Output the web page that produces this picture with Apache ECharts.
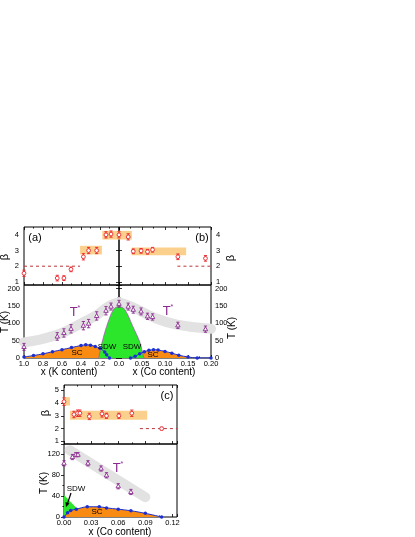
<!DOCTYPE html>
<html>
<head>
<meta charset="utf-8">
<script src="https://cdn.jsdelivr.net/npm/echarts@6/dist/echarts.min.js"></script>
<style>
  html, body { margin: 0; padding: 0; background: #fff; }
  #chart { width: 415px; height: 537px; }
</style>
</head>
<body>
<div id="chart"></div>
<script>
// ---- values ----
// (a) K side: beta and T* share the same samples
const kX = [1.0, 0.65, 0.58, 0.505, 0.375, 0.32, 0.235, 0.137, 0.084, 0.0];
const kBeta = [1.55, 1.24, 1.24, 1.8, 2.6, 3.0, 3.0, 4.0, 4.05, 4.0];
const kBetaErr = [0.2, 0.18, 0.15, 0.15, 0.2, 0.2, 0.2, 0.2, 0.2, 0.2];
const kTstar = [32, 62, 72, 84, 93, 99, 121, 136, 148, 156];
const kTstarErr = [10, 11, 12, 12, 12, 12, 12, 12, 10, 10];

// (b) Co side
const coX = [0.02, 0.031, 0.048, 0.062, 0.073, 0.128, 0.188];
const coBeta = [3.87, 2.95, 2.98, 2.92, 3.05, 2.6, 2.5];
const coBetaErr = [0.2, 0.15, 0.15, 0.15, 0.15, 0.18, 0.18];
const coTstar = [148, 139, 134, 120, 118, 94, 83];
const coTstarErr = [10, 10, 10, 9, 9, 9, 9];

// shaded beta bands: [x1, x2, beta1, beta2]
const kBands = [[0.41, 0.18, 2.75, 3.3], [0.176, 0.0, 3.7, 4.25]];
const coBands = [[0.0, 0.028, 3.7, 4.25], [0.028, 0.146, 2.7, 3.2]];
const kDash = [[1.0, 2], [0.41, 2]];
const coDash = [[0.127, 2], [0.2, 2]];

// grey T* guide
const kGuide = [[1.0, 45], [0.65, 67], [0.375, 103], [0.235, 124], [0.1, 150], [0.0, 160]];
const coGuide = [[0.0, 160], [0.03, 146], [0.075, 117], [0.126, 96], [0.2, 84]];

// Tc domes and SDW
const kTc = [[1.0, 3], [0.9, 7], [0.8, 12], [0.7, 18], [0.6, 24], [0.5, 30], [0.4, 36], [0.35, 38], [0.3, 37], [0.25, 33], [0.2, 28], [0.15, 17], [0.13, 9], [0.1, 0]];
const coTc = [[0.025, 0], [0.035, 5], [0.045, 12], [0.055, 18], [0.065, 22], [0.075, 24], [0.085, 23], [0.1, 19], [0.115, 14], [0.13, 8], [0.15, 3], [0.17, 0], [0.2, 0]];
const kTN = [[0.215, 0], [0.21, 5], [0.18, 43], [0.13, 91], [0.06, 139], [0.0, 150]];
const coTN = [[0.0, 150], [0.013, 139], [0.03, 91], [0.046, 43], [0.053, 5], [0.055, 0]];

// (c) Co side, small x
const cX = [0.0, 0.011, 0.015, 0.0176, 0.028, 0.042, 0.047, 0.0607, 0.075, 0.108];
const cBeta = [4.1, 3.1, 3.2, 3.2, 2.95, 3.15, 3.0, 3.0, 3.2, 2.0];
const cBetaErr = [0.3, 0.25, 0.25, 0.25, 0.25, 0.25, 0.2, 0.2, 0.25, 0.1];
const cBands = [[0.0, 0.0066, 3.8, 4.45], [0.0066, 0.092, 2.7, 3.4]];
const cDash = [[0.084, 2], [0.125, 2]];
const cTX = [0.0, 0.0093, 0.013, 0.0155, 0.0265, 0.041, 0.047, 0.060, 0.074];
const cTstar = [103, 115, 119.5, 119.5, 103, 93, 80, 59, 48];
const cTstarErr = [5, 5, 4, 4, 5, 5, 5, 5, 5];
const cGuide = [[0.0063, 128], [0.09, 38]];
const cTc = [[0.0, 0], [0.004, 8], [0.0074, 12.5], [0.0136, 15], [0.0257, 19.6], [0.039, 19.6], [0.047, 17.5], [0.06, 15], [0.074, 12], [0.09, 7], [0.108, 0]];
const cTN = [[0.0, 42], [0.005, 33], [0.01, 24], [0.015, 15]];

const betaTicks = [1, 2, 3, 4];
const betaTicksC = [1, 2, 3, 4, 5];

// ---- styles ----
const FONT = 'Liberation Sans, Arial, sans-serif';
const RED = '#e8242a';
const PURPLE = '#8a2a90';
const ORANGE = '#f98a12';
const GREEN = '#2ce62c';
const BLUE = '#1d2fd0';
const BAND = '#fbd08c';
const GUIDE = '#e2e2e2';

const chart = echarts.init(document.getElementById('chart'));

function xAx(grid, pos, min, max, interval, inverse, showLabel, fmt) {
  return {
    type: 'value', gridIndex: grid, position: pos, min, max, interval, inverse,
    axisLine: { show: false },
    axisTick: { show: true, inside: true, length: 3, lineStyle: { color: '#000', width: 0.8 } },
    minorTick: { show: true, splitNumber: 2, length: 1.6, lineStyle: { color: '#000', width: 0.8 } },
    axisLabel: { show: showLabel, formatter: fmt, margin: 2, fontSize: 7.5, color: '#000', fontFamily: FONT },
    splitLine: { show: false }
  };
}

function yT(grid, pos, max, interval) {
  return {
    type: 'value', gridIndex: grid, position: pos, min: 0, max, interval,
    axisLine: { show: false },
    axisTick: { show: true, inside: false, length: 3, lineStyle: { color: '#000', width: 0.8 } },
    minorTick: { show: true, splitNumber: 2, length: 1.6, lineStyle: { color: '#000', width: 0.8 } },
    axisLabel: { formatter: v => (v % interval ? '' : String(v)), margin: 4, fontSize: 7.5, color: '#000', fontFamily: FONT },
    splitLine: { show: false }
  };
}

function yBeta(grid, pos, min, max, ticks) {
  return {
    type: 'value', gridIndex: grid, position: pos, min, max,
    axisLine: { show: false },
    axisTick: { show: true, inside: false, length: 3, customValues: ticks, lineStyle: { color: '#000', width: 0.8 } },
    axisLabel: { customValues: ticks, margin: 5, fontSize: 7.5, color: '#000', fontFamily: FONT },
    splitLine: { show: false }
  };
}

function errSeries(xi, yi, xs, ys, es, color, tri) {
  return {
    type: 'custom', xAxisIndex: xi, yAxisIndex: yi, z: 6, clip: false, silent: true,
    data: xs.map((x, i) => [x, ys[i], es[i]]),
    renderItem: (params, api) => {
      const x = api.value(0), y = api.value(1), e = api.value(2);
      const c = api.coord([x, y]);
      const t = api.coord([x, y + e]);
      const b = api.coord([x, y - e]);
      const st = { stroke: color, lineWidth: 0.9 };
      const kids = [
        { type: 'line', shape: { x1: c[0], y1: t[1], x2: c[0], y2: b[1] }, style: st },
        { type: 'line', shape: { x1: c[0] - 1.6, y1: t[1], x2: c[0] + 1.6, y2: t[1] }, style: st },
        { type: 'line', shape: { x1: c[0] - 1.6, y1: b[1], x2: c[0] + 1.6, y2: b[1] }, style: st }
      ];
      if (tri) {
        kids.push({ type: 'polygon', shape: { points: [[c[0], c[1] - 2.4], [c[0] - 2.2, c[1] + 1.6], [c[0] + 2.2, c[1] + 1.6]] },
          style: { fill: '#fff', stroke: color, lineWidth: 0.9 } });
      } else {
        kids.push({ type: 'circle', shape: { cx: c[0], cy: c[1], r: 1.9 }, style: { fill: '#fff', stroke: color, lineWidth: 0.9 } });
      }
      return { type: 'group', children: kids };
    }
  };
}

function bandSeries(xi, yi, bands) {
  return {
    type: 'custom', xAxisIndex: xi, yAxisIndex: yi, z: 2, silent: true,
    data: bands,
    renderItem: (params, api) => {
      const p1 = api.coord([api.value(0), api.value(3)]);
      const p2 = api.coord([api.value(1), api.value(2)]);
      return { type: 'rect', shape: { x: Math.min(p1[0], p2[0]), y: Math.min(p1[1], p2[1]),
        width: Math.abs(p2[0] - p1[0]), height: Math.abs(p2[1] - p1[1]) }, style: { fill: BAND } };
    }
  };
}

function dashSeries(xi, yi, data) {
  return { type: 'line', xAxisIndex: xi, yAxisIndex: yi, data, symbol: 'none', z: 3, silent: true,
    lineStyle: { color: '#b8363a', width: 1, type: [3, 3] } };
}

function guideSeries(xi, yi, data) {
  return { type: 'line', xAxisIndex: xi, yAxisIndex: yi, data, smooth: 0.5, symbol: 'none', z: 1, silent: true,
    lineStyle: { color: GUIDE, width: 10, cap: 'round' } };
}

function areaSeries(xi, yi, data, color, z, lineColor) {
  return { type: 'line', xAxisIndex: xi, yAxisIndex: yi, data, smooth: 0.3, symbol: 'none', z, silent: true,
    lineStyle: { color: lineColor || color, width: lineColor ? 0.7 : 0 }, areaStyle: { color, opacity: 1 } };
}

function tcLine(xi, yi, data) {
  return { type: 'line', xAxisIndex: xi, yAxisIndex: yi, data, smooth: 0.3, symbol: 'circle', symbolSize: 3.5, z: 5, silent: true,
    itemStyle: { color: BLUE }, lineStyle: { color: BLUE, width: 1 } };
}

function txt(x, y, text, size, color, rot, rich) {
  return { type: 'text', x, y, rotation: rot || 0, z: 20,
    style: { text, fontSize: size, fontFamily: FONT, fill: color || '#000', align: 'center', verticalAlign: 'middle', rich } };
}
const starRich = { t: { fontSize: 13, fontFamily: FONT, fill: PURPLE }, s: { fontSize: 7, fontFamily: FONT, fill: PURPLE, verticalAlign: 'top', padding: [0, 0, 8, 0] } };

const border = { show: true, borderColor: '#000', borderWidth: 1, backgroundColor: 'transparent' };
const kFmt = v => v.toFixed(1);
const coFmt = v => (v === 0 ? '' : v.toFixed(2));
const cFmt = v => (Math.abs(v / 0.03 - Math.round(v / 0.03)) > 1e-6 ? '' : v.toFixed(2));

chart.setOption({
  animation: false,
  grid: [
    Object.assign({ left: 24, top: 227, width: 95, height: 58 }, border),
    Object.assign({ left: 119, top: 227, width: 92, height: 58 }, border),
    Object.assign({ left: 24, top: 285, width: 95, height: 73 }, border),
    Object.assign({ left: 119, top: 285, width: 92, height: 73 }, border),
    Object.assign({ left: 64, top: 385, width: 113, height: 59 }, border),
    Object.assign({ left: 64, top: 444, width: 113, height: 73 }, border)
  ],
  xAxis: [
    xAx(0, 'bottom', 0, 1, 0.2, true, false, kFmt),
    xAx(1, 'bottom', 0, 0.2, 0.05, false, false, coFmt),
    xAx(2, 'bottom', 0, 1, 0.2, true, true, kFmt),
    xAx(3, 'bottom', 0, 0.2, 0.05, false, true, coFmt),
    xAx(4, 'bottom', 0, 0.125, 0.03, false, false, cFmt),
    xAx(5, 'bottom', 0, 0.125, 0.03, false, true, cFmt),
    xAx(0, 'top', 0, 1, 0.2, true, false, kFmt),
    xAx(1, 'top', 0, 0.2, 0.05, false, false, coFmt),
    xAx(4, 'top', 0, 0.125, 0.03, false, false, cFmt)
  ],
  yAxis: [
    yBeta(0, 'left', 0.8, 4.5, betaTicks),
    yBeta(1, 'right', 0.8, 4.5, betaTicks),
    yT(2, 'left', 210, 50),
    yT(3, 'right', 210, 50),
    yBeta(4, 'left', 0.8, 5.4, betaTicksC),
    yT(5, 'left', 140, 40)
  ],
  series: [
    // beta panels
    bandSeries(0, 0, kBands),
    bandSeries(1, 1, coBands),
    dashSeries(0, 0, kDash),
    dashSeries(1, 1, coDash),
    errSeries(0, 0, kX, kBeta, kBetaErr, RED, false),
    errSeries(1, 1, coX, coBeta, coBetaErr, RED, false),
    // T panels
    guideSeries(2, 2, kGuide),
    guideSeries(3, 3, coGuide),
    areaSeries(2, 2, kTc, ORANGE, 2),
    areaSeries(3, 3, coTc, ORANGE, 2),
    areaSeries(2, 2, kTN, GREEN, 3, '#b048c0'),
    areaSeries(3, 3, coTN, GREEN, 3, '#b048c0'),
    tcLine(2, 2, kTc),
    tcLine(3, 3, coTc),
    errSeries(2, 2, kX, kTstar, kTstarErr, PURPLE, true),
    errSeries(3, 3, coX, coTstar, coTstarErr, PURPLE, true),
    // (c)
    bandSeries(4, 4, cBands),
    dashSeries(4, 4, cDash),
    errSeries(4, 4, cX, cBeta, cBetaErr, RED, false),
    guideSeries(5, 5, cGuide),
    areaSeries(5, 5, cTN, GREEN, 2),
    areaSeries(5, 5, cTc, ORANGE, 3),
    tcLine(5, 5, cTc),
    errSeries(5, 5, cTX, cTstar, cTstarErr, PURPLE, true)
  ],
  graphic: [
    txt(35, 238, '(a)', 11),
    txt(202, 238, '(b)', 11),
    txt(167, 396, '(c)', 11),
    txt(5, 257, 'β', 11, '#000', Math.PI / 2),
    txt(231, 258, 'β', 11, '#000', Math.PI / 2),
    txt(5, 322, 'T (K)', 10, '#000', Math.PI / 2),
    txt(232, 328, 'T (K)', 10, '#000', Math.PI / 2),
    txt(69, 372, 'x (K content)', 10),
    txt(164, 372, 'x (Co content)', 10),
    txt(46, 413, 'β', 11, '#000', Math.PI / 2),
    txt(44, 483, 'T (K)', 10, '#000', Math.PI / 2),
    txt(120, 532, 'x (Co content)', 10),
    txt(77, 353, 'SC', 8),
    txt(107, 347, 'SDW', 8),
    txt(132, 347, 'SDW', 8),
    txt(153, 355, 'SC', 8),
    txt(75, 312, '{t|T}{s|*}', 13, PURPLE, 0, starRich),
    txt(168, 311, '{t|T}{s|*}', 13, PURPLE, 0, starRich),
    txt(76, 489, 'SDW', 8),
    txt(97, 512, 'SC', 8),
    txt(118, 468, '{t|T}{s|*}', 13, PURPLE, 0, starRich),
    { type: 'line', z: 20, shape: { x1: 71, y1: 493, x2: 67, y2: 505 }, style: { stroke: '#000', lineWidth: 1.2 } },
    { type: 'polygon', z: 20, shape: { points: [[66, 507], [65.5, 502], [69.5, 503.5]] }, style: { fill: '#000' } }
  ]
});
</script>
</body>
</html>
